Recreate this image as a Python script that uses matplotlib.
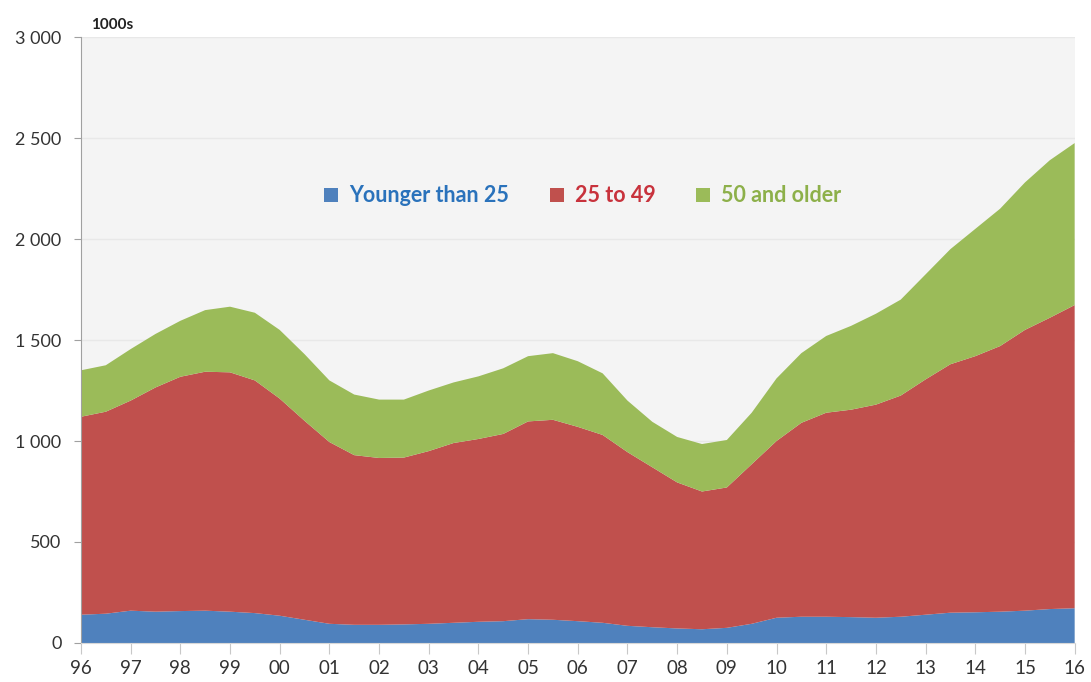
import matplotlib.pyplot as plt
from matplotlib.patches import Patch
from matplotlib.ticker import FuncFormatter

# Datos (miles de personas, cada medio ano)
years = [1996.0, 1996.5, 1997.0, 1997.5, 1998.0, 1998.5, 1999.0, 1999.5, 2000.0, 2000.5,
         2001.0, 2001.5, 2002.0, 2002.5, 2003.0, 2003.5, 2004.0, 2004.5, 2005.0, 2005.5,
         2006.0, 2006.5, 2007.0, 2007.5, 2008.0, 2008.5, 2009.0, 2009.5, 2010.0, 2010.5,
         2011.0, 2011.5, 2012.0, 2012.5, 2013.0, 2013.5, 2014.0, 2014.5, 2015.0, 2015.5,
         2016.0]

younger_25 = [140, 145, 160, 155, 158, 160, 155, 148, 135, 115,
              95, 90, 90, 92, 95, 100, 105, 108, 118, 115,
              108, 100, 85, 78, 72, 68, 75, 95, 125, 130,
              130, 128, 125, 130, 140, 150, 152, 155, 160, 168,
              172]

age_25_49 = [980, 1000, 1040, 1110, 1160, 1183, 1185, 1152, 1075, 985,
             900, 840, 826, 826, 855, 890, 905, 927, 979, 990,
             962, 930, 860, 792, 723, 682, 695, 790, 875, 960,
             1010, 1027, 1055, 1095, 1165, 1230, 1268, 1315, 1390, 1442,
             1501]

age_50_plus = [230, 230, 255, 265, 277, 305, 325, 335, 340, 330,
               305, 300, 289, 287, 300, 300, 310, 325, 323, 330,
               325, 305, 255, 225, 225, 235, 235, 255, 310, 345,
               380, 415, 450, 475, 520, 570, 630, 680, 730, 780,
               802]

labels = ['Younger than 25', '25 to 49', '50 and older']
colors = ['#4f81bd', '#c0504d', '#9bbb59']
text_colors = ['#2a72bb', '#c8323c', '#8db04a']

plt.rcParams['font.family'] = ['Lato', 'DejaVu Sans']

fig = plt.figure(figsize=(10.91, 6.82), dpi=100)
ax = fig.add_axes([0.0742, 0.0572, 0.9108, 0.8885])
ax.set_facecolor('#f4f4f4')

ax.stackplot(years, younger_25, age_25_49, age_50_plus, colors=colors, linewidth=0, zorder=2)

ax.set_xlim(1996, 2016)
ax.set_ylim(0, 3000)

ax.set_yticks(range(0, 3001, 500))
ax.yaxis.set_major_formatter(FuncFormatter(lambda v, p: '{:,}'.format(int(v)).replace(',', ' ')))
ax.set_xticks(range(1996, 2017))
ax.set_xticklabels(['%02d' % (y % 100) for y in range(1996, 2017)])

ax.grid(axis='y', color='#e8e8e8', linewidth=1, zorder=1)
ax.set_axisbelow(True)

for s in ['top', 'right']:
    ax.spines[s].set_visible(False)
ax.spines['left'].set_color('#a0a0a0')
ax.spines['bottom'].set_color('#d8d8d8')
ax.tick_params(axis='y', colors='#a0a0a0', labelcolor='#333333', labelsize=13, length=5, pad=9)
ax.tick_params(axis='x', colors='#c8c8c8', labelcolor='#333333', labelsize=13.5, length=8, pad=4)

fig.text(0.083, 0.963, '1000s', fontsize=11, fontweight='bold', color='#222222', va='center')

handles = [Patch(facecolor=c, edgecolor='none') for c in colors]
ax.legend(handles, labels, loc='center', bbox_to_anchor=(0.505, 0.738), ncol=3, frameon=False,
          labelcolor=text_colors, prop={'weight': 'bold', 'size': 15.5},
          handlelength=0.65, handleheight=0.65, handletextpad=0.5, columnspacing=1.9)

plt.savefig('out.png', dpi=100)
